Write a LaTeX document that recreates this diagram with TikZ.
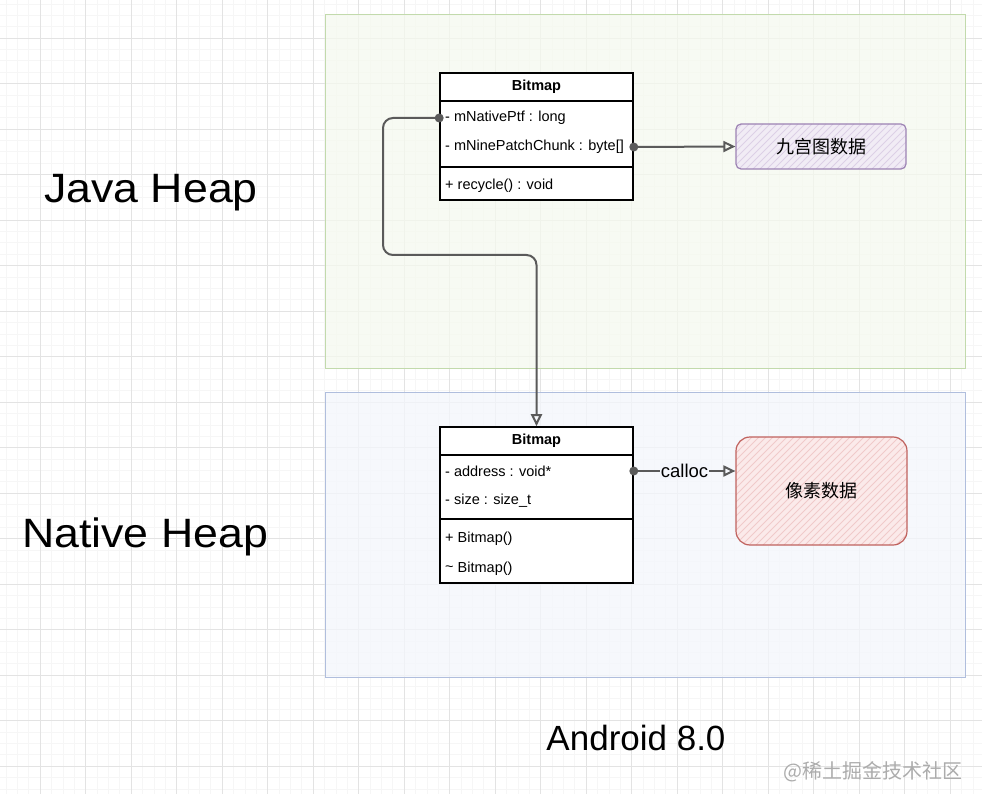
\documentclass[tikz,border=0pt]{standalone}
\usepackage{fontspec}
\setmainfont{Liberation Sans}
\newfontfamily\cjk{Noto Sans CJK SC}
\usepackage{xcolor}
\usetikzlibrary{arrows.meta}

\definecolor{gridmajor}{HTML}{E3E3E3}
\definecolor{gridminor}{HTML}{F6F6F6}
\definecolor{javaline}{HTML}{C2DAAC}
\definecolor{javafill}{HTML}{F5F9EF}
\definecolor{nativeline}{HTML}{B0BEDD}
\definecolor{nativefill}{HTML}{F4F6FC}
\definecolor{ninedraw}{HTML}{9C82B3}
\definecolor{ninefill}{HTML}{F1ECF5}
\definecolor{ninehatch}{HTML}{DCD0E6}
\definecolor{pixdraw}{HTML}{C0625E}
\definecolor{pixfill}{HTML}{FBEAEA}
\definecolor{pixhatch}{HTML}{F0CACA}
\definecolor{wire}{HTML}{5A5A5A}

\tikzset{
  heap/.style={line width=1pt},
  cls/.style={draw=black,line width=1.6pt,fill=white,inner sep=0pt},
  attr/.style={anchor=west,inner sep=0pt,font=\fontsize{14.5}{17}\selectfont},
  clstitle/.style={inner sep=0pt,font=\fontsize{14.5}{17}\selectfont\bfseries},
  bigtext/.style={inner sep=0pt,font=\fontsize{41}{45}\selectfont},
  databox/.style={inner sep=0pt,line width=1.2pt,font=\cjk\fontsize{18}{21}\selectfont},
  wireline/.style={draw=wire,line width=2pt,-{Triangle[open,length=12pt,width=11pt]}},
}

\begin{document}
\begin{tikzpicture}[x=1pt,y=-1pt]
  \useasboundingbox (0,0) rectangle (982,794);
  \fill[white] (0,0) rectangle (982,794);
  % grid
  \foreach \i in {0,...,87}{ \draw[gridminor,line width=0.5pt] (-5.5+\i*11.375,0) -- (-5.5+\i*11.375,794); }
  \foreach \i in {0,...,70}{ \draw[gridminor,line width=0.5pt] (0,-7.5+\i*11.375) -- (982,-7.5+\i*11.375); }
  \foreach \i in {0,...,20}{ \draw[gridmajor,line width=0.7pt] (40+\i*45.5,0) -- (40+\i*45.5,794); }
  \foreach \i in {0,...,16}{ \draw[gridmajor,line width=0.7pt] (0,38+\i*45.5) -- (982,38+\i*45.5); }

  % heaps
  \filldraw[heap,draw=javaline,fill=javafill,fill opacity=0.75] (325,15) rectangle (965,368);
  \filldraw[heap,draw=nativeline,fill=nativefill,fill opacity=0.75] (325,392) rectangle (965,677);
  \node[bigtext] (java) at (151,193) {\scalebox{1.09}[1]{Java Heap}};
  \node[bigtext] (native) at (145,537) {\scalebox{1.09}[1]{Native Heap}};
  \node[inner sep=0pt,font=\fontsize{35}{39}\selectfont] (android) at (636,738) {Android 8.0};

  % java side bitmap
  \node[cls,minimum width=193pt,minimum height=127pt] (jbm) at (536.5,136.5) {};
  \draw[line width=1.2pt] (440,101) -- (633,101);
  \draw[line width=1.2pt] (440,167) -- (633,167);
  \node[clstitle] (jtitle) at (536.5,87) {Bitmap};
  \node[attr] (jptr) at (445,118) {- mNativePtf : long};
  \node[attr] (jchunk) at (445,147) {- mNinePatchChunk : byte[]};
  \node[attr] (jrecycle) at (445,186) {+ recycle() : void};

  % native side bitmap
  \node[cls,minimum width=193pt,minimum height=156pt] (nbm) at (536.5,505) {};
  \draw[line width=1.2pt] (440,455) -- (633,455);
  \draw[line width=1.2pt] (440,519) -- (633,519);
  \node[clstitle] (ntitle) at (536.5,441) {Bitmap};
  \node[attr] (naddr) at (445,471) {- address : void*};
  \node[attr] (nsize) at (445,501) {- size : size\_t};
  \node[attr] (nctor) at (445,539) {+ Bitmap()};
  \node[attr] (ndtor) at (445,569) {\raisebox{0.2ex}{\textasciitilde} Bitmap()};

  % data boxes
  \fill[ninefill,rounded corners=5] (736,124) rectangle (906,169);
  \begin{scope}
    \clip[rounded corners=5] (736,124) rectangle (906,169);
    \foreach \k in {0,...,30}{ \draw[ninehatch,line width=0.8pt] (690+\k*7,169) -- ++(45,-45); }
  \end{scope}
  \node[databox,draw=ninedraw,rounded corners=5,minimum width=170pt,minimum height=45pt] (nine) at (821,146.5) {九宫图数据};

  \fill[pixfill,rounded corners=14] (736,437) rectangle (907,545);
  \begin{scope}
    \clip[rounded corners=14] (736,437) rectangle (907,545);
    \foreach \k in {0,...,40}{ \draw[pixhatch,line width=0.8pt] (630+\k*7,545) -- ++(108,-108); }
  \end{scope}
  \node[databox,draw=pixdraw,rounded corners=14,minimum width=171pt,minimum height=108pt] (pix) at (821.5,491) {像素数据};

  % connectors
  \draw[wireline,rounded corners=10] (jbm.west |- jptr) -| (383,255) -| (nbm.north);
  \draw[wireline] (jbm.east |- jchunk) -- (nine.west);
  \draw[wireline] (nbm.east |- naddr) -- (pix.west |- naddr)
    node[midway,fill=nativefill,inner sep=1pt,font=\fontsize{18.5}{21}\selectfont] (calloc) {calloc};
  \foreach \p in {jbm.west |- jptr, jbm.east |- jchunk, nbm.east |- naddr}{ \fill[wire] (\p) circle (4.5); }

  \node[inner sep=0pt,text=gray!65,font=\cjk\fontsize{20}{23}\selectfont] (mark) at (873,772) {@稀土掘金技术社区};
\end{tikzpicture}
\end{document}
